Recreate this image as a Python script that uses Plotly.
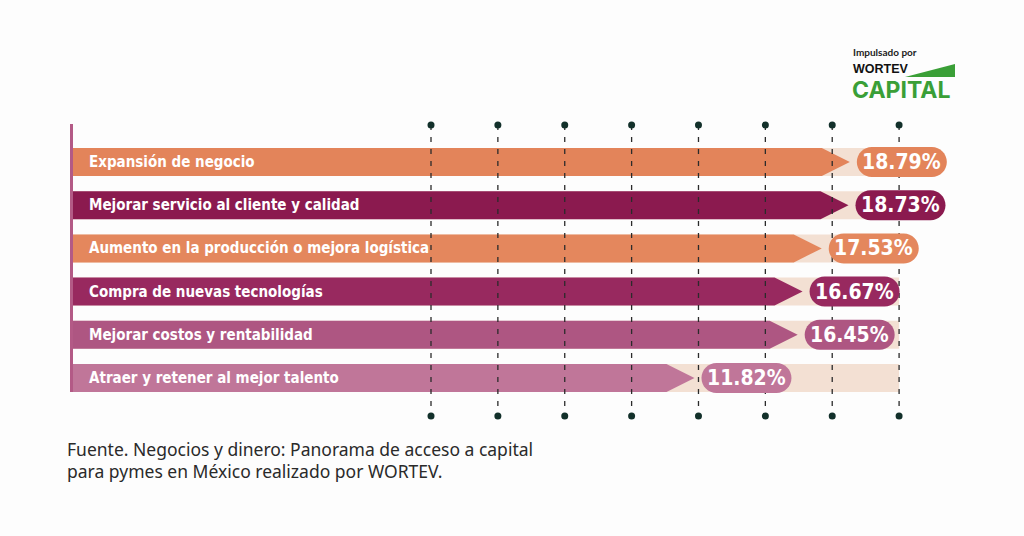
import plotly.graph_objects as go

# ---------------- data ----------------
categories = [
    "Expansión de negocio",
    "Mejorar servicio al cliente y calidad",
    "Aumento en la producción o mejora logística",
    "Compra de nuevas tecnologías",
    "Mejorar costos y rentabilidad",
    "Atraer y retener al mejor talento",
]
values = [18.79, 18.73, 17.53, 16.67, 16.45, 11.82]
bar_colors = ["#e3845a", "#8b1a4f", "#e4875d", "#98295f", "#ae5682", "#c07699"]
grid_ticks = [0, 3, 6, 9, 12, 15, 18, 21]
source_lines = [
    "Fuente. Negocios y dinero: Panorama de acceso a capital",
    "para pymes en México realizado por WORTEV.",
]

# ---------------- geometry (layout, in px) ----------------
W, H = 1024, 536
PX_PER = 22.29          # px per percentage point
ZERO_PX = 431           # pixel x of 0 %
ROW0_PX = 162           # pixel y of first row centre
ROW_STEP = 43.2         # px between rows
XMIN = -ZERO_PX / PX_PER
XMAX = XMIN + W / PX_PER
YTOP = -ROW0_PX / ROW_STEP
YBOT = (H - ROW0_PX) / ROW_STEP
BASE = (73 - ZERO_PX) / PX_PER      # left edge of bars
TRACK_END = grid_ticks[-1]
HALF = 14 / ROW_STEP                # half bar height in y units
ARROW = 28 / PX_PER                 # arrow head length in x units
TRACK_COLOR = "#f3e0d3"
COND = "DejaVu Sans Condensed, Roboto, sans-serif"

fig = go.Figure()
shapes = []
annotations = []

# background tracks
for i, v in enumerate(values):
    shapes.append(dict(type="rect", xref="x", yref="y", layer="below",
                       x0=BASE, x1=TRACK_END, y0=i - HALF, y1=i + HALF,
                       fillcolor=TRACK_COLOR, line=dict(width=0)))

# arrow bars
for i, (c, v, col) in enumerate(zip(categories, values, bar_colors)):
    xs = [BASE, v - ARROW, v, v - ARROW, BASE, BASE]
    ys = [i - HALF, i - HALF, i, i + HALF, i + HALF, i - HALF]
    fig.add_trace(go.Scatter(x=xs, y=ys, fill="toself", fillcolor=col,
                             mode="lines", line=dict(width=0, color=col),
                             hoverinfo="skip", showlegend=False))
    annotations.append(dict(x=BASE, y=i, xref="x", yref="y", xanchor="left",
                            yanchor="middle", xshift=14, showarrow=False,
                            text="<b>" + c + "</b>",
                            font=dict(family=COND, size=15, color="white")))

# dashed grid lines with dots
y_top = (125 - ROW0_PX) / ROW_STEP
y_bot = (416 - ROW0_PX) / ROW_STEP
for t in grid_ticks:
    fig.add_trace(go.Scatter(x=[t, t], y=[y_top, y_bot], mode="lines",
                             line=dict(color="#2b2b2b", width=1.3, dash="5px,7px"),
                             hoverinfo="skip", showlegend=False))
fig.add_trace(go.Scatter(x=grid_ticks + grid_ticks,
                         y=[y_top] * len(grid_ticks) + [y_bot] * len(grid_ticks),
                         mode="markers", marker=dict(color="#12302a", size=7),
                         hoverinfo="skip", showlegend=False))

# value pills
k = 0.5523 * 15
pill = (f"M -30,-15 L 30,-15 C {30+k},-15 45,{-k} 45,0 C 45,{k} {30+k},15 30,15 "
        f"L -30,15 C {-30-k},15 -45,{k} -45,0 C -45,{-k} {-30-k},-15 -30,-15 Z")
for i, (v, col) in enumerate(zip(values, bar_colors)):
    cx = v + 52 / PX_PER
    shapes.append(dict(type="path", xref="x", yref="y", layer="above",
                       xsizemode="pixel", ysizemode="pixel",
                       xanchor=cx, yanchor=i, path=pill,
                       fillcolor=col, line=dict(width=0)))
    annotations.append(dict(x=cx, y=i, xref="x", yref="y", showarrow=False,
                            xanchor="center", yanchor="middle",
                            text=f"<b>{v:.2f}%</b>",
                            font=dict(family=COND, size=21, color="white")))

# left vertical rule
shapes.append(dict(type="line", xref="x", yref="y", layer="above",
                   x0=BASE - 1.5 / PX_PER, x1=BASE - 1.5 / PX_PER,
                   y0=(124 - ROW0_PX) / ROW_STEP, y1=len(values) - 1 + HALF,
                   line=dict(color="#b35a86", width=3)))

# source footnote
for j, line in enumerate(source_lines):
    annotations.append(dict(x=65 / W, y=1 - (449 + 22 * j) / H, xref="paper", yref="paper",
                            xanchor="left", yanchor="middle", showarrow=False, text=line,
                            font=dict(family="Noto Sans, sans-serif", size=17.5, color="#2a2a2a")))

# logo
annotations.append(dict(x=885 / W, y=1 - 52 / H, xref="paper", yref="paper", showarrow=False,
                        xanchor="center", yanchor="middle", text="<b>Impulsado por</b>",
                        font=dict(family="Lato, sans-serif", size=10, color="#222")))
annotations.append(dict(x=851 / W, y=1 - 69 / H, xref="paper", yref="paper", showarrow=False,
                        xanchor="left", yanchor="middle", text="<b>WORTEV</b>",
                        font=dict(family="Liberation Sans, sans-serif", size=12.5, color="#111")))
annotations.append(dict(x=850 / W, y=1 - 90 / H, xref="paper", yref="paper", showarrow=False,
                        xanchor="left", yanchor="middle", text="<b>CAPITAL</b>",
                        font=dict(family="Inter, sans-serif", size=23, color="#3a9f37")))
shapes.append(dict(type="path", xref="paper", yref="paper", layer="above",
                   path=f"M {905/W},{1-77/H} L {955/W},{1-64/H} L {955/W},{1-77/H} Z",
                   fillcolor="#3a9f37", line=dict(width=0)))

fig.update_layout(
    width=W, height=H,
    margin=dict(l=0, r=0, t=0, b=0),
    paper_bgcolor="#fdfdfd", plot_bgcolor="rgba(0,0,0,0)",
    xaxis=dict(range=[XMIN, XMAX], visible=False, fixedrange=True),
    yaxis=dict(range=[YBOT, YTOP], visible=False, fixedrange=True),
    shapes=shapes, annotations=annotations,
    showlegend=False,
)
fig.write_html("out.html", config={"displayModeBar": False})
